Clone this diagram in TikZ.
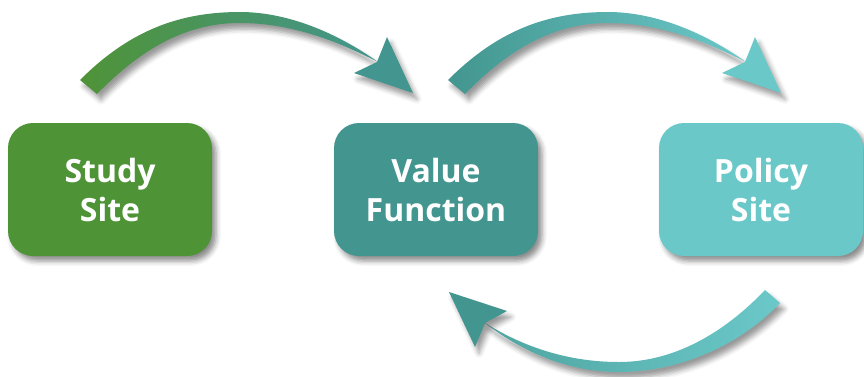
\documentclass[tikz,border=0pt]{standalone}
\usepackage{fontspec}
\setmainfont{Open Sans}
\usetikzlibrary{shadows.blur}
\definecolor{cgreen}{HTML}{4F9337}
\definecolor{cteal}{HTML}{43968F}
\definecolor{clight}{HTML}{6BC8C9}
\begin{document}
\begin{tikzpicture}[x=1pt,y=-1pt,
  box/.style={rounded corners=25pt, minimum width=204pt, minimum height=133pt,
    text=white, align=center, font=\fontsize{32}{39}\selectfont\bfseries,
    blur shadow={shadow xshift=4pt,shadow yshift=-5pt,shadow blur radius=5pt,shadow opacity=45}},
  arrowshadow/.style={blur shadow={shadow xshift=4pt,shadow yshift=-6pt,shadow blur radius=5pt,shadow opacity=40}}]
\useasboundingbox (0,0) rectangle (864,376);
% boxes
\node[box, fill=cgreen] (study)  at (110,189.5) {Study\\Site};
\node[box, fill=cteal]  (value)  at (436,189.5) {Value\\Function};
\node[box, fill=clight] (policy) at (761,189.5) {Policy\\Site};
% arrow 1: study -> value
\path[arrowshadow, left color=cgreen, right color=cteal]
  (80,80) .. controls (130,30) and (180,12) .. (240,12)
  .. controls (290,12) and (340,35) .. (378,62)
  .. controls (335,40) and (290,23) .. (240,23)
  .. controls (185,23) and (140,50) .. (97,94) -- cycle;
\path[arrowshadow, fill=cteal] (387,37) -- (413,93) -- (354,73) -- (377,62) -- cycle;
% arrow 2: value -> policy
\begin{scope}[xshift=368pt]
\path[arrowshadow, left color=cteal, right color=clight]
  (80,80) .. controls (130,30) and (180,12) .. (240,12)
  .. controls (290,12) and (340,35) .. (378,62)
  .. controls (335,40) and (290,23) .. (240,23)
  .. controls (185,23) and (140,50) .. (97,94) -- cycle;
\path[arrowshadow, fill=clight] (387,37) -- (413,93) -- (354,73) -- (377,62) -- cycle;
\end{scope}
% arrow 3: policy -> value
\path[arrowshadow, left color=cteal!70!clight, right color=clight]
  (780,303) .. controls (740,345) and (680,372) .. (619,372)
  .. controls (565,372) and (520,350) .. (485,323)
  .. controls (520,345) and (565,362) .. (619,362)
  .. controls (675,362) and (725,332) .. (765,290) -- cycle;
\path[arrowshadow, fill=cteal] (449,292) -- (507,311) -- (485,323) -- (475,347) -- cycle;
\end{tikzpicture}
\end{document}
